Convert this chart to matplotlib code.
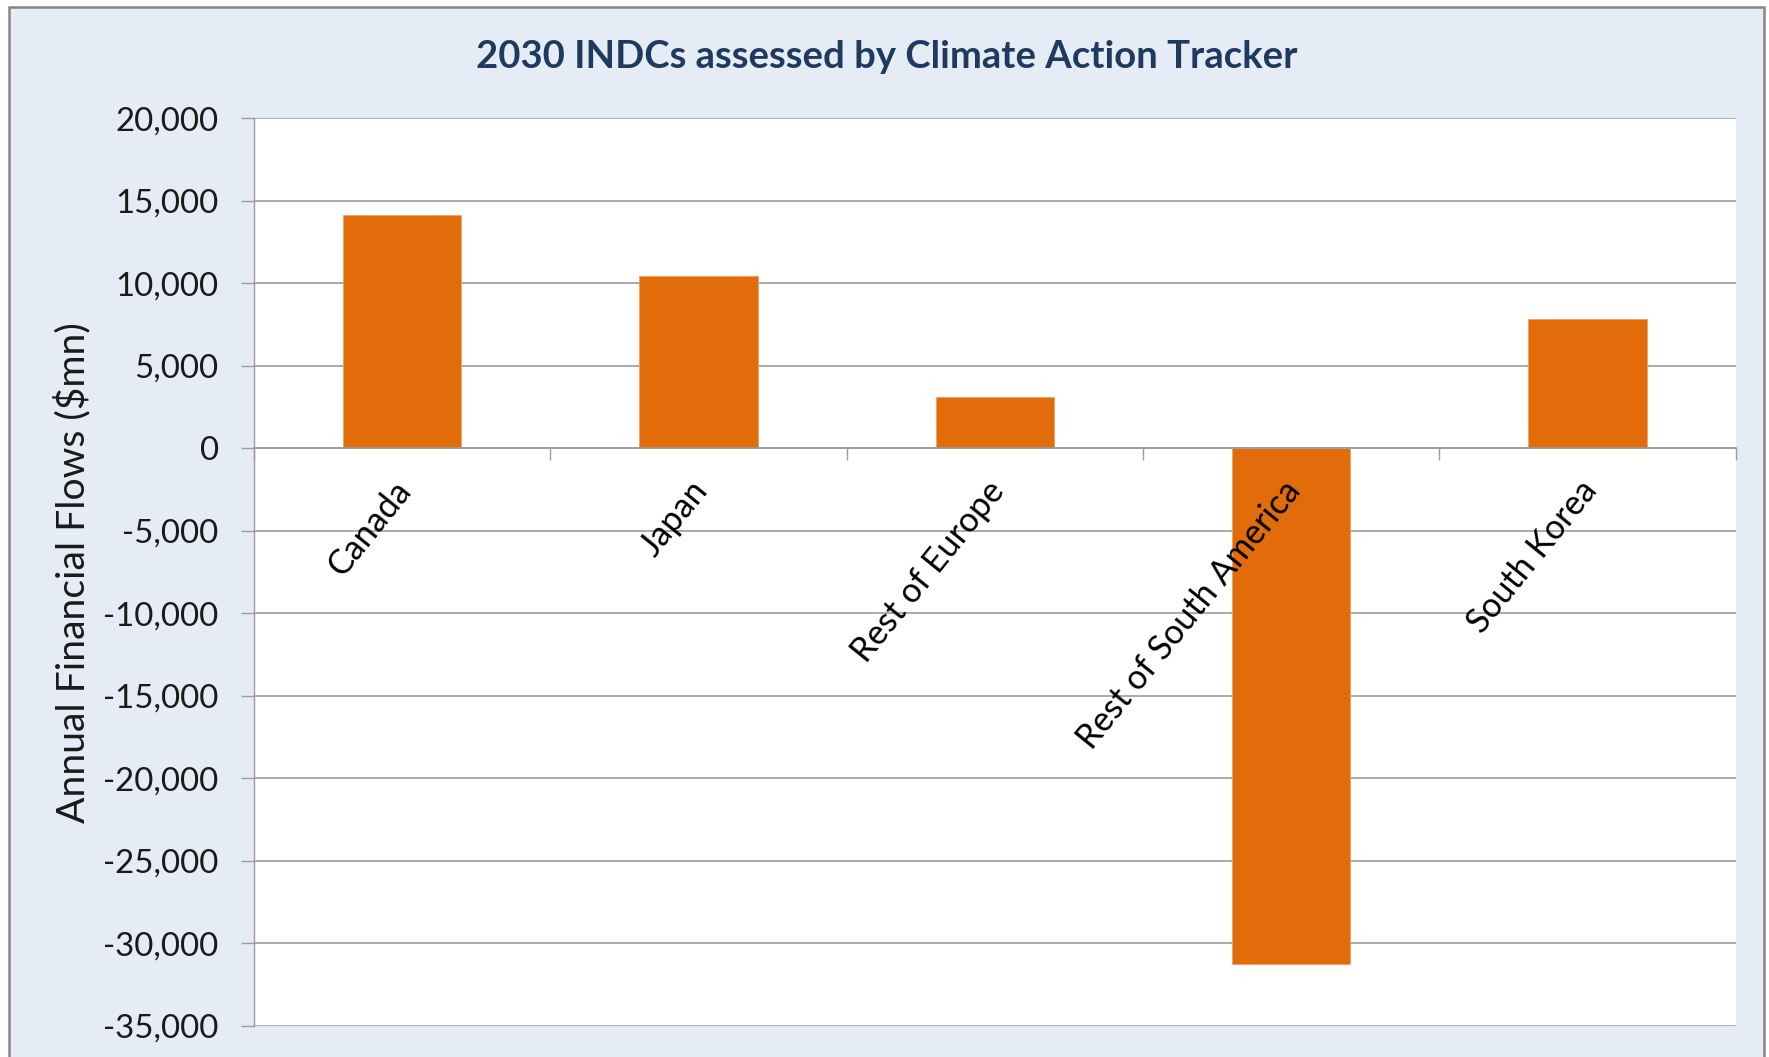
import matplotlib
matplotlib.use("Agg")
import matplotlib.pyplot as plt
from matplotlib.patches import Rectangle
from matplotlib.ticker import FuncFormatter, MultipleLocator, FixedLocator
from matplotlib.transforms import ScaledTranslation
import numpy as np

# Chart data
categories = ["Canada", "Japan", "Rest of Europe", "Rest of South America", "South Korea"]
flows = [14150, 10450, 3130, -31250, 7830]
y_min, y_max, y_step = -35000, 20000, 5000

title = "2030 INDCs assessed by Climate Action Tracker"
y_label = "Annual Financial Flows ($mn)"

plt.rcParams["font.family"] = ["Lato", "DejaVu Sans"]

W, H, DPI = 1769, 1057, 100
fig = plt.figure(figsize=(W / DPI, H / DPI), dpi=DPI, facecolor="white")

# Chart-area frame (light blue-grey panel with grey border)
frame = Rectangle((9 / W, -0.02), (1764 - 9) / W, 1 - 7 / H + 0.02,
                  transform=fig.transFigure, facecolor="#E5ECF5",
                  edgecolor="#868686", linewidth=1.8, zorder=-10)
fig.patches.append(frame)

left, right = 254 / W, 1735.7 / W
top, bottom = 1 - 118.4 / H, 1 - 1025.5 / H
ax = fig.add_axes([left, bottom, right - left, top - bottom])
ax.set_zorder(2)
ax.set_facecolor("white")

grid_color = "#9C9C9C"
x = np.arange(len(categories))
ax.bar(x, flows, width=0.4, color="#E36C0A", edgecolor="#F3A066",
       linewidth=0.6, zorder=3)

ax.set_xlim(-0.5, len(categories) - 0.5)
ax.set_ylim(y_min, y_max)

# Horizontal gridlines behind the bars
ax.yaxis.set_major_locator(MultipleLocator(y_step))
ax.grid(axis="y", color=grid_color, linewidth=1.2)
ax.set_axisbelow(True)

ax.yaxis.set_major_formatter(FuncFormatter(lambda v, p: f"{int(v):,}"))
ax.tick_params(axis="y", direction="out", length=9.4, width=1.0,
               color=grid_color, pad=16, labelsize=23.8, labelcolor="#1a1a1a")

# Category axis sits on zero, ticks between categories
for s in ("top", "right"):
    ax.spines[s].set_visible(False)
ax.spines["left"].set_color(grid_color)
ax.spines["left"].set_linewidth(1.0)
ax.spines["bottom"].set_position(("data", 0))
ax.spines["bottom"].set_color(grid_color)
ax.spines["bottom"].set_linewidth(1.2)
ax.spines["bottom"].set_zorder(4)

ax.xaxis.set_major_locator(FixedLocator(np.arange(len(categories) + 1) - 0.5))
ax.xaxis.set_minor_locator(FixedLocator(x))
ax.set_xticklabels([], minor=False)
ax.set_xticklabels(categories, minor=True)
ax.tick_params(axis="x", which="major", direction="out", length=8.6,
               width=1.0, color=grid_color)
ax.tick_params(axis="x", which="minor", length=0, pad=26.4,
               labelsize=24.5, labelcolor="black")
# Category labels are drawn above the bars
ax.xaxis.set_zorder(5)
shift = ScaledTranslation(3 / DPI, 0, fig.dpi_scale_trans)
for lab in ax.xaxis.get_minorticklabels():
    lab.set_rotation(51)
    lab.set_ha("right")
    lab.set_va("center")
    lab.set_rotation_mode("anchor")
    lab.set_transform(lab.get_transform() + shift)

fig.text(0.5011, 1 - 56.5 / H, title, ha="center", va="center",
         fontsize=27.5, fontweight="bold", color="#1F3A5F")
fig.text(72.5 / W, 1 - 573 / H, y_label, ha="center", va="center",
         rotation=90, fontsize=28.2, color="#1a1a1a")

fig.savefig("out.png", dpi=DPI, facecolor="white")
